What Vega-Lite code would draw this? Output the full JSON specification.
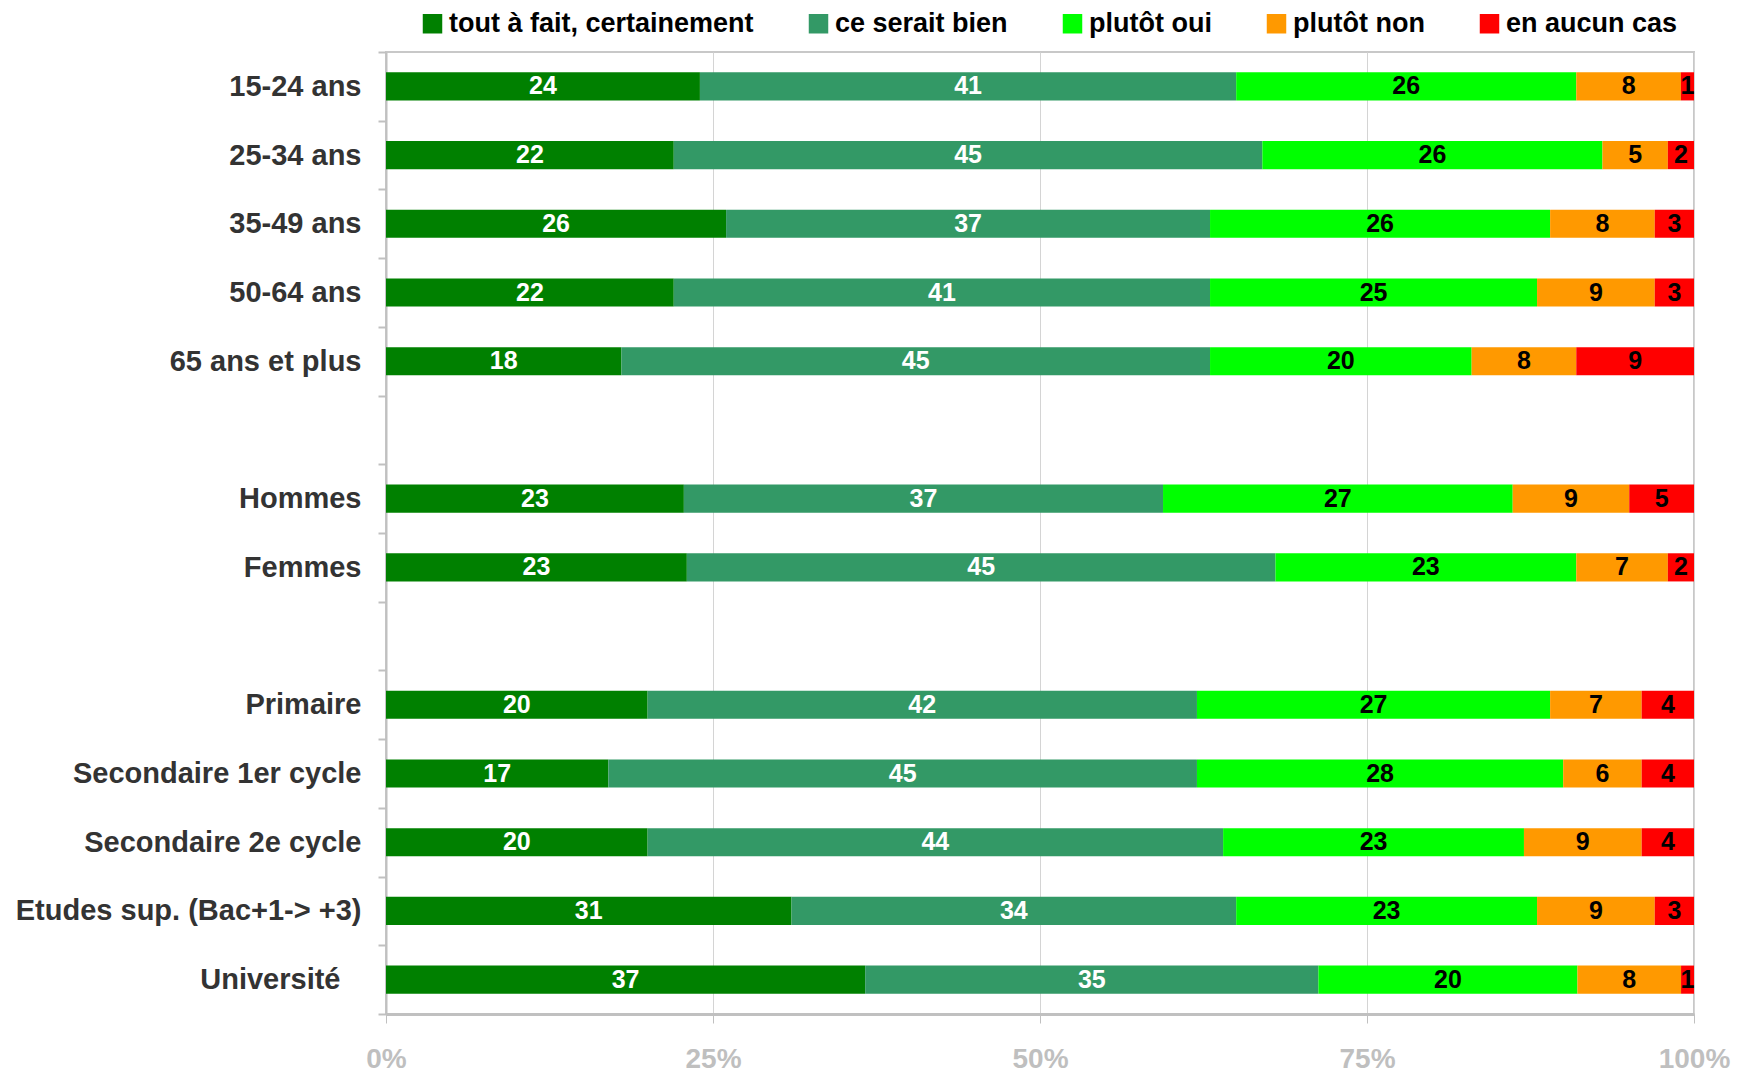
{
  "$schema": "https://vega.github.io/schema/vega-lite/v6.json",
  "width": 1308,
  "height": 962,
  "autosize": {"type": "none"},
  "padding": {"left": 386, "top": 52, "right": 50, "bottom": 59},
  "background": "white",
  "config": {"font": "Liberation Sans", "view": {"stroke": "#c8c8c8", "strokeWidth": 2}},
  "data": {"values": [
    {"g": "15-24 ans", "r": "tout à fait, certainement", "k": 0, "v": 24},
    {"g": "15-24 ans", "r": "ce serait bien", "k": 1, "v": 41},
    {"g": "15-24 ans", "r": "plutôt oui", "k": 2, "v": 26},
    {"g": "15-24 ans", "r": "plutôt non", "k": 3, "v": 8},
    {"g": "15-24 ans", "r": "en aucun cas", "k": 4, "v": 1},
    {"g": "25-34 ans", "r": "tout à fait, certainement", "k": 0, "v": 22},
    {"g": "25-34 ans", "r": "ce serait bien", "k": 1, "v": 45},
    {"g": "25-34 ans", "r": "plutôt oui", "k": 2, "v": 26},
    {"g": "25-34 ans", "r": "plutôt non", "k": 3, "v": 5},
    {"g": "25-34 ans", "r": "en aucun cas", "k": 4, "v": 2},
    {"g": "35-49 ans", "r": "tout à fait, certainement", "k": 0, "v": 26},
    {"g": "35-49 ans", "r": "ce serait bien", "k": 1, "v": 37},
    {"g": "35-49 ans", "r": "plutôt oui", "k": 2, "v": 26},
    {"g": "35-49 ans", "r": "plutôt non", "k": 3, "v": 8},
    {"g": "35-49 ans", "r": "en aucun cas", "k": 4, "v": 3},
    {"g": "50-64 ans", "r": "tout à fait, certainement", "k": 0, "v": 22},
    {"g": "50-64 ans", "r": "ce serait bien", "k": 1, "v": 41},
    {"g": "50-64 ans", "r": "plutôt oui", "k": 2, "v": 25},
    {"g": "50-64 ans", "r": "plutôt non", "k": 3, "v": 9},
    {"g": "50-64 ans", "r": "en aucun cas", "k": 4, "v": 3},
    {"g": "65 ans et plus", "r": "tout à fait, certainement", "k": 0, "v": 18},
    {"g": "65 ans et plus", "r": "ce serait bien", "k": 1, "v": 45},
    {"g": "65 ans et plus", "r": "plutôt oui", "k": 2, "v": 20},
    {"g": "65 ans et plus", "r": "plutôt non", "k": 3, "v": 8},
    {"g": "65 ans et plus", "r": "en aucun cas", "k": 4, "v": 9},
    {"g": "Hommes", "r": "tout à fait, certainement", "k": 0, "v": 23},
    {"g": "Hommes", "r": "ce serait bien", "k": 1, "v": 37},
    {"g": "Hommes", "r": "plutôt oui", "k": 2, "v": 27},
    {"g": "Hommes", "r": "plutôt non", "k": 3, "v": 9},
    {"g": "Hommes", "r": "en aucun cas", "k": 4, "v": 5},
    {"g": "Femmes", "r": "tout à fait, certainement", "k": 0, "v": 23},
    {"g": "Femmes", "r": "ce serait bien", "k": 1, "v": 45},
    {"g": "Femmes", "r": "plutôt oui", "k": 2, "v": 23},
    {"g": "Femmes", "r": "plutôt non", "k": 3, "v": 7},
    {"g": "Femmes", "r": "en aucun cas", "k": 4, "v": 2},
    {"g": "Primaire", "r": "tout à fait, certainement", "k": 0, "v": 20},
    {"g": "Primaire", "r": "ce serait bien", "k": 1, "v": 42},
    {"g": "Primaire", "r": "plutôt oui", "k": 2, "v": 27},
    {"g": "Primaire", "r": "plutôt non", "k": 3, "v": 7},
    {"g": "Primaire", "r": "en aucun cas", "k": 4, "v": 4},
    {"g": "Secondaire 1er cycle", "r": "tout à fait, certainement", "k": 0, "v": 17},
    {"g": "Secondaire 1er cycle", "r": "ce serait bien", "k": 1, "v": 45},
    {"g": "Secondaire 1er cycle", "r": "plutôt oui", "k": 2, "v": 28},
    {"g": "Secondaire 1er cycle", "r": "plutôt non", "k": 3, "v": 6},
    {"g": "Secondaire 1er cycle", "r": "en aucun cas", "k": 4, "v": 4},
    {"g": "Secondaire 2e cycle", "r": "tout à fait, certainement", "k": 0, "v": 20},
    {"g": "Secondaire 2e cycle", "r": "ce serait bien", "k": 1, "v": 44},
    {"g": "Secondaire 2e cycle", "r": "plutôt oui", "k": 2, "v": 23},
    {"g": "Secondaire 2e cycle", "r": "plutôt non", "k": 3, "v": 9},
    {"g": "Secondaire 2e cycle", "r": "en aucun cas", "k": 4, "v": 4},
    {"g": "Etudes sup. (Bac+1-> +3)", "r": "tout à fait, certainement", "k": 0, "v": 31},
    {"g": "Etudes sup. (Bac+1-> +3)", "r": "ce serait bien", "k": 1, "v": 34},
    {"g": "Etudes sup. (Bac+1-> +3)", "r": "plutôt oui", "k": 2, "v": 23},
    {"g": "Etudes sup. (Bac+1-> +3)", "r": "plutôt non", "k": 3, "v": 9},
    {"g": "Etudes sup. (Bac+1-> +3)", "r": "en aucun cas", "k": 4, "v": 3},
    {"g": "Université\u2800", "r": "tout à fait, certainement", "k": 0, "v": 37},
    {"g": "Université\u2800", "r": "ce serait bien", "k": 1, "v": 35},
    {"g": "Université\u2800", "r": "plutôt oui", "k": 2, "v": 20},
    {"g": "Université\u2800", "r": "plutôt non", "k": 3, "v": 8},
    {"g": "Université\u2800", "r": "en aucun cas", "k": 4, "v": 1}
  ]},
  "encoding": {
    "y": {
      "field": "g", "type": "nominal", "sort": null,
      "scale": {
        "domain": ["15-24 ans", "25-34 ans", "35-49 ans", "50-64 ans", "65 ans et plus", " ", "Hommes", "Femmes", "  ", "Primaire", "Secondaire 1er cycle", "Secondaire 2e cycle", "Etudes sup. (Bac+1-> +3)", "Université\u2800"],
        "paddingInner": 0, "paddingOuter": 0
      },
      "axis": {
        "title": null, "tickBand": "extent", "tickSize": 8, "tickColor": "#c0c0c0", "tickWidth": 2,
        "domainColor": "#c0c0c0", "domainWidth": 2,
        "labelFontSize": 29, "labelFontWeight": "bold", "labelColor": "#333333",
        "labelPadding": 17, "labelLimit": 600, "grid": false
      }
    },
    "x": {
      "field": "v", "type": "quantitative", "stack": "normalize",
      "scale": {"domain": [0, 1]},
      "axis": {
        "title": null, "values": [0, 0.25, 0.5, 0.75, 1], "format": ".0%", "labelFlush": false,
        "labelFontSize": 28, "labelFontWeight": "bold", "labelColor": "#bfbfbf",
        "labelPadding": 22, "tickSize": 9, "tickColor": "#c0c0c0",
        "domainColor": "#c0c0c0", "domainWidth": 3,
        "grid": true, "gridColor": "#d4d4d4", "gridWidth": 1
      }
    },
    "order": {"field": "k", "type": "quantitative"}
  },
  "layer": [
    {
      "mark": {"type": "bar", "height": {"band": 0.41}},
      "encoding": {
        "color": {
          "field": "r", "type": "nominal",
          "scale": {
            "domain": ["tout à fait, certainement", "ce serait bien", "plutôt oui", "plutôt non", "en aucun cas"],
            "range": ["#008000", "#339966", "#00ff00", "#ff9900", "#ff0000"]
          },
          "legend": {
            "orient": "none", "legendX": 33, "legendY": -42, "direction": "horizontal",
            "title": null, "symbolType": "square", "symbolSize": 380, "symbolStrokeWidth": 0,
            "labelFontSize": 27, "labelFontWeight": "bold", "labelColor": "#000000",
            "labelOffset": 3, "columnPadding": 51, "labelLimit": 600
          }
        }
      }
    },
    {
      "mark": {"type": "text", "fontSize": 25, "fontWeight": "bold", "baseline": "middle", "align": "center"},
      "encoding": {
        "x": {"field": "v", "type": "quantitative", "stack": "normalize", "bandPosition": 0.5},
        "detail": {"field": "r"},
        "text": {"field": "v", "type": "quantitative"},
        "color": {"condition": {"test": "datum.k < 2", "value": "#ffffff"}, "value": "#000000"}
      }
    }
  ]
}
